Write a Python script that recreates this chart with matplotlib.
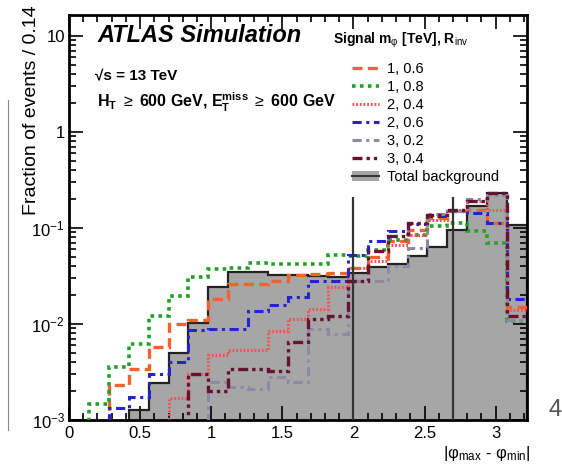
import matplotlib
matplotlib.use('Agg')
from matplotlib import pyplot as plt
from matplotlib.lines import Line2D
from matplotlib.patches import Patch
from matplotlib.ticker import FixedLocator, NullFormatter, MultipleLocator, FuncFormatter
import numpy as np

plt.rcParams['font.family'] = ['Liberation Sans', 'DejaVu Sans']
plt.rcParams['mathtext.fontset'] = 'custom'
plt.rcParams['mathtext.rm'] = 'Liberation Sans'
plt.rcParams['mathtext.it'] = 'Liberation Sans:italic'
plt.rcParams['mathtext.bf'] = 'Liberation Sans:bold'

# bin edges, width 0.14
edges = np.round(np.arange(24) * 0.14, 2)

# fraction of events per bin
bkg = [1e-5, 1e-5, 1e-5, 1.27e-3, 2.45e-3, 5.0e-3, 1.02e-2, 2.4e-2, 3.45e-2, 3.45e-2,
       3.2e-2, 3.2e-2, 3.15e-2, 3.1e-2, 3.4e-2, 3.9e-2, 4.2e-2, 5.1e-2, 6.4e-2, 9.5e-2,
       0.17, 0.23, 0.107]
sig_1_06 = [1e-5, 8e-4, 2.3e-3, 3.4e-3, 5.7e-3, 1.0e-2, 1.1e-2, 1.8e-2, 2.6e-2, 2.6e-2,
            2.8e-2, 3.2e-2, 3.3e-2, 3.4e-2, 3.8e-2, 5.0e-2, 7.3e-2, 9.5e-2, 0.127, 0.15,
            0.155, 0.113, 1.5e-2]
sig_1_08 = [5e-4, 1.47e-3, 3.6e-3, 6.2e-3, 1.2e-2, 1.97e-2, 3.1e-2, 3.7e-2, 3.8e-2, 4.3e-2,
            4.2e-2, 4.2e-2, 4.2e-2, 5.2e-2, 5.1e-2, 5.85e-2, 7.5e-2, 8.4e-2, 0.105, 0.113,
            0.092, 0.069, 1.07e-2]
sig_2_04 = [1e-5, 1e-5, 1e-5, 5e-4, 8e-4, 1.7e-3, 3.0e-3, 4.8e-3, 5.4e-3, 5.4e-3,
            8.4e-3, 1.13e-2, 1.44e-2, 2.45e-2, 3.8e-2, 4.5e-2, 6.6e-2, 8.4e-2, 0.12, 0.155,
            0.19, 0.155, 1.4e-2]
sig_2_06 = [1e-5, 6e-4, 1.34e-3, 1.75e-3, 3.0e-3, 4.0e-3, 8.6e-3, 8.9e-3, 8.9e-3, 1.37e-2,
            1.58e-2, 1.9e-2, 2.8e-2, 2.8e-2, 5.2e-2, 7.3e-2, 9.2e-2, 0.11, 0.134, 0.15,
            0.144, 0.113, 1.8e-2]
sig_3_02 = [1e-5, 1e-5, 1e-5, 1e-5, 1e-5, 3e-4, 8e-4, 2.5e-3, 2.2e-3, 2.1e-3,
            2.8e-3, 2.5e-3, 8.9e-3, 7.9e-3, 2.8e-2, 2.8e-2, 4.0e-2, 6.2e-2, 0.14, 0.15,
            0.2, 0.22, 1.1e-2]
sig_3_04 = [1e-5, 1e-5, 1e-5, 1e-5, 3e-4, 8e-4, 3.0e-3, 2.0e-3, 3.4e-3, 3.4e-3,
            3.2e-3, 6.5e-3, 1.13e-2, 1.2e-2, 2.8e-2, 5.8e-2, 8.2e-2, 0.113, 0.137, 0.155,
            0.19, 0.23, 1.2e-2]

labels = ['1, 0.6', '1, 0.8', '2, 0.4', '2, 0.6', '3, 0.2', '3, 0.4']
signals = [sig_1_06, sig_1_08, sig_2_04, sig_2_06, sig_3_02, sig_3_04]
colors = ['#f2622c', '#22a02a', '#ee5555', '#2424cc', '#8a8aa6', '#6a1030']
styles = [(0, (3, 1.6)), (0, (1, 1.2)), (0, (0.6, 0.6)), (0, (3, 1.5, 1, 1.5)),
          (0, (3, 1.5, 1, 1.5)), (0, (3, 1.2, 1, 1.2, 1, 1.2))]
widths = [2.4, 2.6, 2.2, 2.2, 2.2, 2.4]

fig = plt.figure(figsize=(5.62, 4.66), dpi=100)
ax = fig.add_axes([69 / 562, 1 - 420 / 466, 458 / 562, 405 / 466])

ax.stairs(bkg, edges, fill=True, color='#a6a6a6', baseline=1e-6, zorder=1)
ax.stairs(bkg, edges, color='#222222', lw=1.6, baseline=1e-6, zorder=2)
for s, c, ls, lw in zip(signals, colors, styles, widths):
    ax.stairs(s, edges, color=c, ls=ls, lw=lw, baseline=None, zorder=3)
ax.vlines([2.0, 2.7], 1e-3, 0.21, color='#333333', lw=1.6, zorder=4)

ax.set_yscale('log')
ax.set_xlim(0, 3.22)
ax.set_ylim(1e-3, 16.5)
ax.yaxis.set_major_locator(FixedLocator([1e-3, 1e-2, 1e-1, 1, 10]))
ax.set_yticklabels([r'$10^{-3}$', r'$10^{-2}$', r'$10^{-1}$', '1', '10'])
ax.yaxis.set_minor_locator(FixedLocator([m * 10.0 ** e for e in range(-3, 2) for m in range(2, 10)]))
ax.yaxis.set_minor_formatter(NullFormatter())
ax.xaxis.set_major_locator(MultipleLocator(0.5))
ax.xaxis.set_major_formatter(FuncFormatter(lambda v, p: f'{v:g}'))
ax.xaxis.set_minor_locator(MultipleLocator(0.1))
ax.tick_params(which='both', direction='in', top=True, right=True, labelsize=12, width=1.2)
ax.tick_params(which='major', length=10)
ax.tick_params(which='minor', length=5)
ax.tick_params(axis='y', pad=3)
ax.tick_params(axis='x', pad=4)
for sp in ax.spines.values():
    sp.set_linewidth(2)

fig.text(32 / 562, 1 - 5 / 466, 'Fraction of events / 0.14', rotation=90,
         ha='center', va='top', fontsize=14)
fig.text(530 / 562, 1 - 463 / 466, '|φ$_{\\rm max}$ - φ$_{\\rm min}$|',
         ha='right', va='bottom', fontsize=12)

fig.text(97 / 562, 1 - 36 / 466, 'ATLAS Simulation',
         fontsize=17, weight='bold', style='italic', va='center')
fig.text(95 / 562, 1 - 75 / 466, '√s = 13 TeV',
         fontsize=11, weight='bold', va='center')
fig.text(97 / 562, 1 - 102 / 466,
         r'$\mathbf{H_T}$ $\geq$ 600 GeV, $\mathbf{E_T^{miss}}$ $\geq$ 600 GeV',
         fontsize=11.5, weight='bold', va='center')

fig.text(333 / 562, 1 - 40 / 466, 'Signal m$_\\mathrm{φ}$ [TeV], R$_{\\rm inv}$',
         fontsize=10, weight='bold', va='center')

handles = [Line2D([], [], color=c, ls=ls, lw=lw) for c, ls, lw in zip(colors, styles, widths)]
handles.append((Patch(facecolor='#a6a6a6', edgecolor='none'), Line2D([], [], color='#333333', lw=1.5)))
ax.legend(handles, labels + ['Total background'],
          loc='upper left', bbox_to_anchor=(343 / 562, 1 - 53 / 466),
          bbox_transform=fig.transFigure, frameon=False, fontsize=10.5,
          handlelength=1.9, labelspacing=0.28, handletextpad=0.5,
          borderpad=0.1)

# page artefacts in the scan
fig.text(555 / 562, 1 - 410 / 466, '4', color='#555555', fontsize=17, ha='center', va='center')
fig.add_artist(Line2D([8 / 562, 8 / 562], [1 - 100 / 466, 1 - 430 / 466],
                      transform=fig.transFigure, color='#888888', lw=0.8))

fig.savefig('out.png', dpi=100)
